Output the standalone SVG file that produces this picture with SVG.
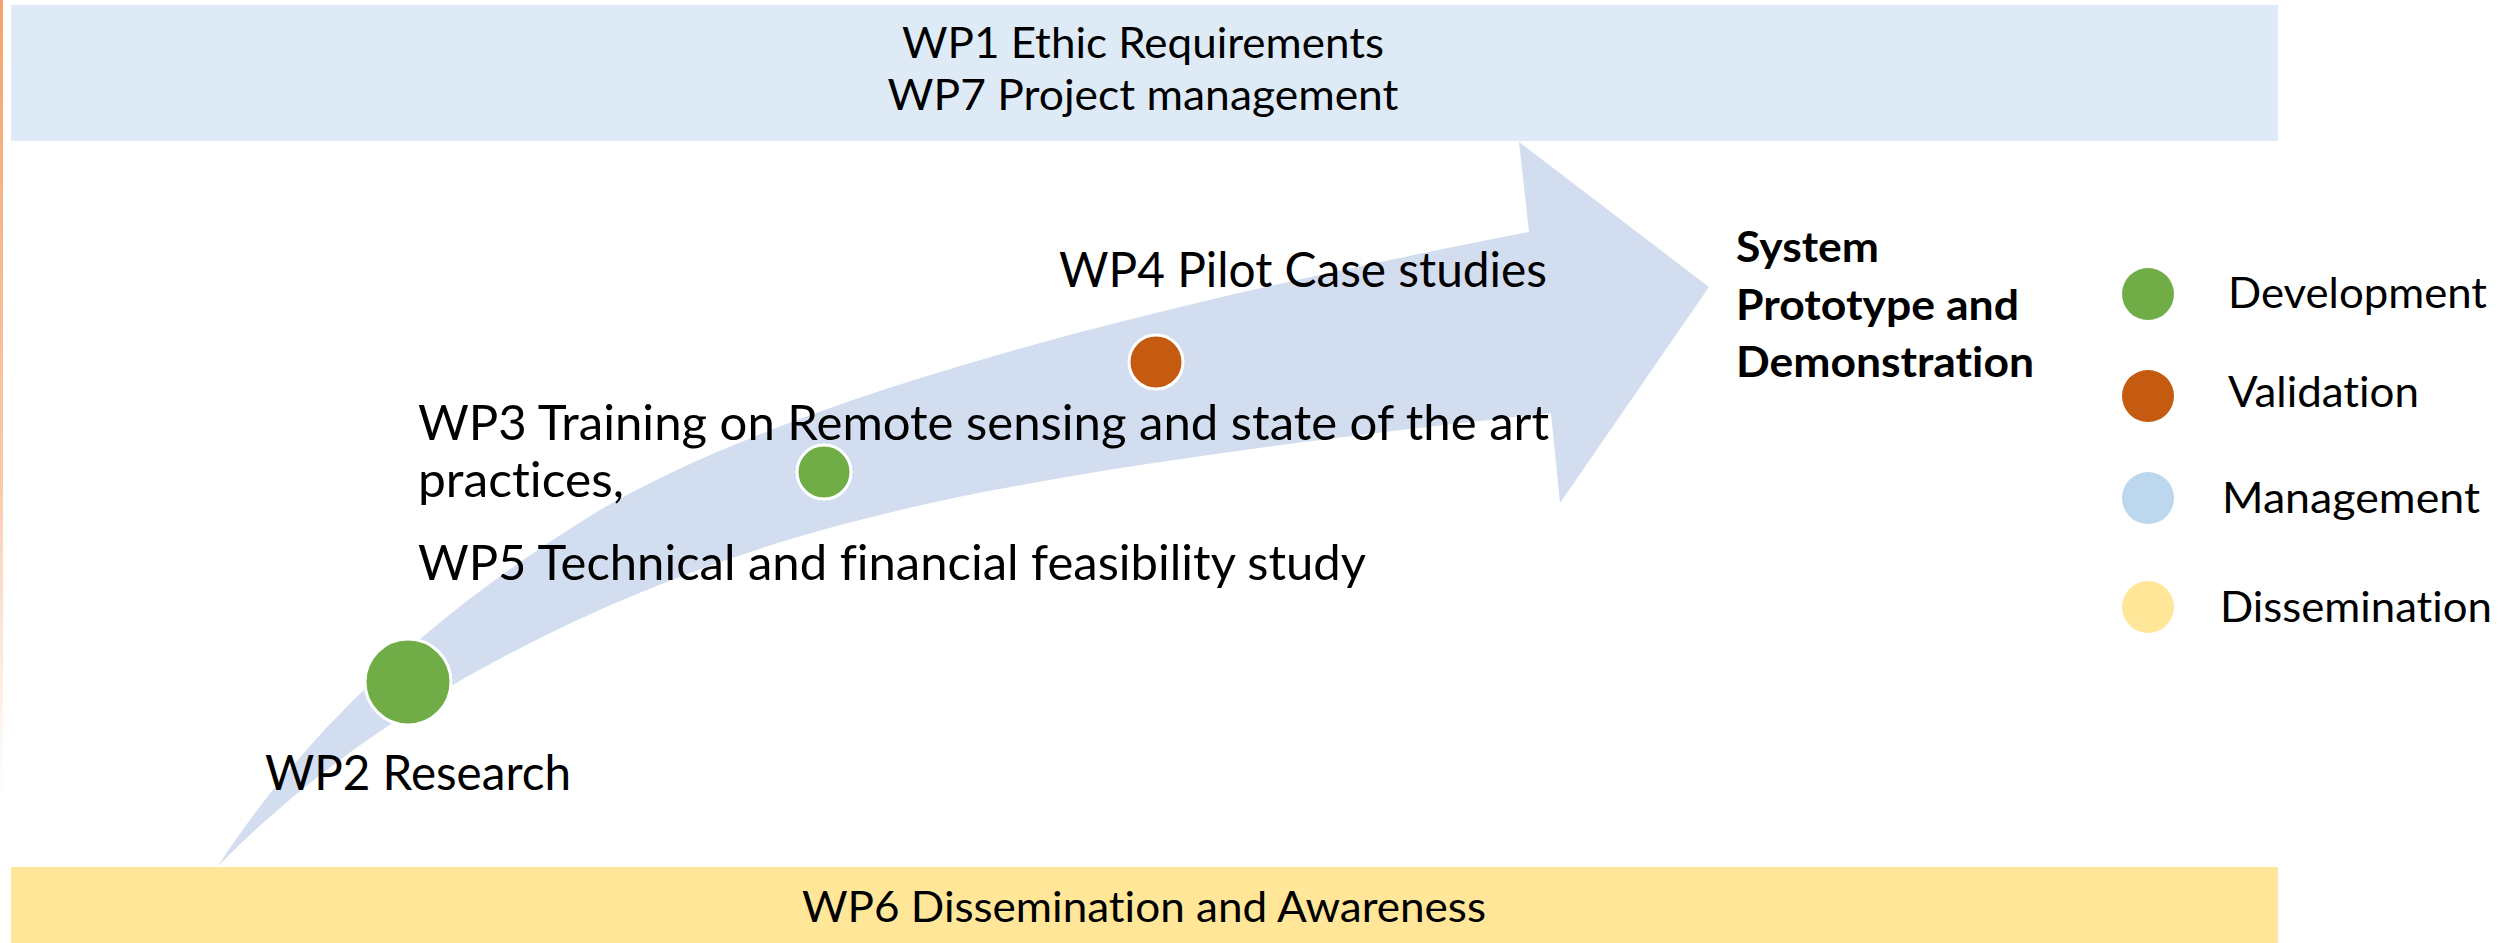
<svg xmlns="http://www.w3.org/2000/svg" width="2516" height="943" viewBox="0 0 2516 943">
  <defs>
    <linearGradient id="edgeGrad" x1="0" y1="0" x2="0" y2="1">
      <stop offset="0" stop-color="#F4A46A" stop-opacity="1"/>
      <stop offset="0.6" stop-color="#F6B284" stop-opacity="0.7"/>
      <stop offset="1" stop-color="#F8C4A0" stop-opacity="0"/>
    </linearGradient>
    <style>
      .t { font-family: Lato, "Open Sans", "Liberation Sans", sans-serif; fill: #000; font-variant-ligatures: none; }
      .banner { font-size: 43px; }
      .body { font-size: 48px; }
      .bold { font-size: 42.7px; font-weight: 700; }
      .leg { font-size: 42.5px; }
      .dot { stroke: #FFFFFF; stroke-width: 3; }
      .dev { fill: #70AD47; }
      .val { fill: #C55A11; }
      .man { fill: #BDD7EE; }
      .dis { fill: #FFE699; }
    </style>
  </defs>

  <rect x="0" y="0" width="2516" height="943" fill="#FFFFFF"/>
  <rect id="left-edge" x="0" y="0" width="3" height="800" fill="url(#edgeGrad)"/>

  <g id="wp1-wp7">
    <rect x="11" y="5" width="2267" height="136" fill="#DEEBF7"/>
    <text class="t banner" x="1143" y="58" text-anchor="middle" textLength="482" lengthAdjust="spacingAndGlyphs">WP1 Ethic Requirements</text>
    <text class="t banner" x="1143" y="110" text-anchor="middle" textLength="511" lengthAdjust="spacingAndGlyphs">WP7 Project management</text>
  </g>

  <g id="wp6">
    <rect x="11" y="867" width="2267" height="76" fill="#FFE699"/>
    <text class="t banner" x="1144" y="922" text-anchor="middle" textLength="684" lengthAdjust="spacingAndGlyphs">WP6 Dissemination and Awareness</text>
  </g>

  <g id="connectors">
    <path id="progress-arrow" fill="#D2DDEF" d="M218,866 C300,740 420,620 600,510 C780,405 1100,315 1529,232 L1519,142 L1709,287 L1560,503 L1551,413 C1350,435 1050,470 860,520 C700,560 420,660 218,866 Z"/>
  </g>

  <g id="wp2">
    <circle class="dot dev" cx="408" cy="682" r="43"/>
    <text class="t body" x="265" y="790" textLength="306" lengthAdjust="spacingAndGlyphs">WP2 Research</text>
  </g>

  <g id="wp3-wp5">
    <circle class="dot dev" cx="824" cy="472" r="27"/>
    <text class="t body" x="418" y="440" textLength="1131" lengthAdjust="spacingAndGlyphs">WP3 Training on Remote sensing and state of the art</text>
    <text class="t body" x="418" y="497" textLength="206" lengthAdjust="spacingAndGlyphs">practices,</text>
    <text class="t body" x="418" y="580" textLength="948" lengthAdjust="spacingAndGlyphs">WP5 Technical and financial feasibility study</text>
  </g>

  <g id="wp4">
    <circle class="dot val" cx="1156" cy="362" r="27"/>
    <text class="t body" x="1059" y="287" textLength="488" lengthAdjust="spacingAndGlyphs">WP4 Pilot Case studies</text>
  </g>

  <g id="outcome">
    <text class="t bold" x="1736" y="262" textLength="143" lengthAdjust="spacingAndGlyphs">System</text>
    <text class="t bold" x="1736" y="320" textLength="283" lengthAdjust="spacingAndGlyphs">Prototype and</text>
    <text class="t bold" x="1736" y="377" textLength="298" lengthAdjust="spacingAndGlyphs">Demonstration</text>
  </g>

  <g id="legend">
    <g id="legend-development">
      <circle class="dev" cx="2148" cy="294" r="26"/>
      <text class="t leg" x="2228" y="308" textLength="259" lengthAdjust="spacingAndGlyphs">Development</text>
    </g>
    <g id="legend-validation">
      <circle class="val" cx="2148" cy="396" r="26"/>
      <text class="t leg" x="2228" y="407" textLength="191" lengthAdjust="spacingAndGlyphs">Validation</text>
    </g>
    <g id="legend-management">
      <circle class="man" cx="2148" cy="498" r="26"/>
      <text class="t leg" x="2222" y="513" textLength="258" lengthAdjust="spacingAndGlyphs">Management</text>
    </g>
    <g id="legend-dissemination">
      <circle class="dis" cx="2148" cy="607" r="26"/>
      <text class="t leg" x="2220" y="622" textLength="272" lengthAdjust="spacingAndGlyphs">Dissemination</text>
    </g>
  </g>
</svg>
